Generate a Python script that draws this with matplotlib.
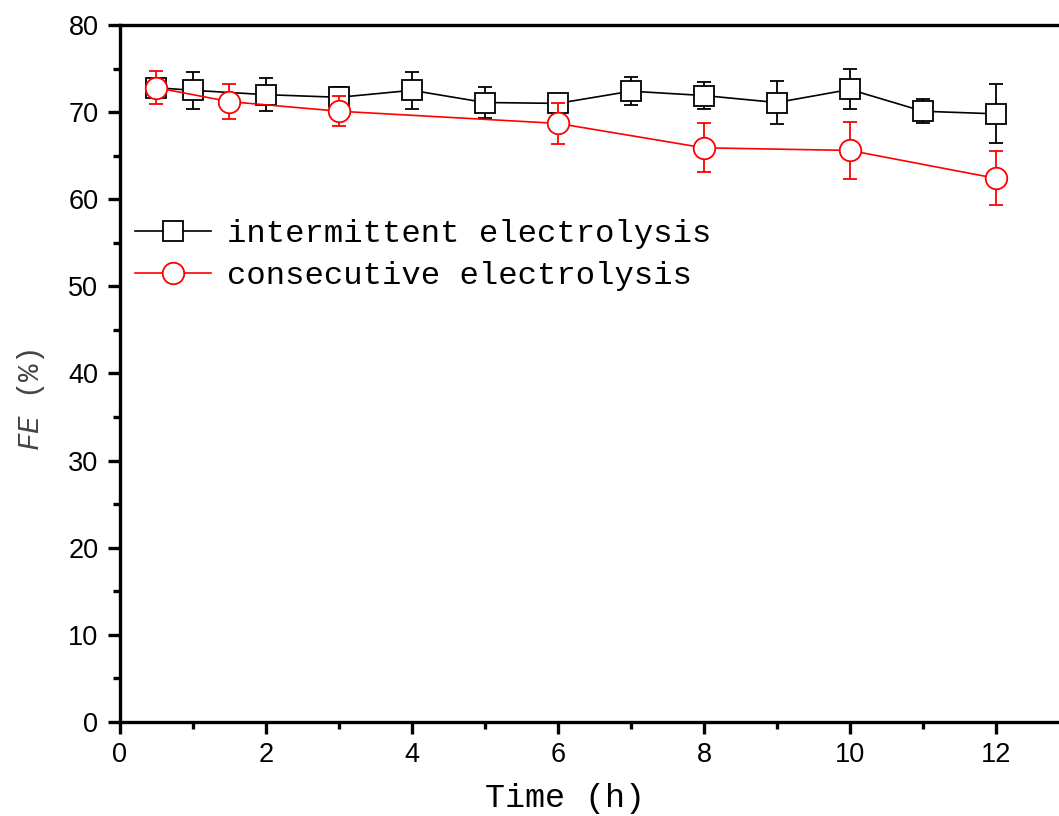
import matplotlib
matplotlib.use("Agg")
import matplotlib.pyplot as plt
from matplotlib.ticker import MultipleLocator
from matplotlib.lines import Line2D

# Data
t_inter = [0.5, 1, 2, 3, 4, 5, 6, 7, 8, 9, 10, 11, 12]
fe_inter = [72.8, 72.5, 72.0, 71.7, 72.5, 71.1, 71.0, 72.4, 71.9, 71.1, 72.6, 70.1, 69.8]
err_inter = [1.0, 2.1, 1.9, 1.2, 2.1, 1.8, 1.1, 1.6, 1.6, 2.5, 2.3, 1.4, 3.4]

t_cons = [0.5, 1.5, 3, 6, 8, 10, 12]
fe_cons = [72.8, 71.2, 70.1, 68.7, 65.9, 65.6, 62.4]
err_cons = [1.9, 2.0, 1.7, 2.4, 2.8, 3.25, 3.1]

labels = ["intermittent electrolysis", "consecutive electrolysis"]
x_ticks = [0, 2, 4, 6, 8, 10, 12]
y_ticks = [0, 10, 20, 30, 40, 50, 60, 70, 80]

plt.rcParams['mathtext.fontset'] = 'custom'
plt.rcParams['mathtext.it'] = 'Liberation Mono:italic'
plt.rcParams['mathtext.rm'] = 'Liberation Mono'

fig = plt.figure(figsize=(10.59, 8.16), dpi=100)
ax = fig.add_axes([0.1133, 0.1152, 0.896, 0.8542])

mono = 'Liberation Mono'
sans = 'Liberation Sans'

ax.errorbar(t_inter, fe_inter, yerr=err_inter, color='black', marker='s',
            markersize=14, markerfacecolor='white', markeredgecolor='black',
            markeredgewidth=1.3, linewidth=1.2, capsize=4.7, elinewidth=1.3,
            capthick=1.3, zorder=3)
ax.errorbar(t_cons, fe_cons, yerr=err_cons, color='#ff0000', marker='o',
            markersize=15.5, markerfacecolor='white', markeredgecolor='#ff0000',
            markeredgewidth=1.3, linewidth=1.2, capsize=4.7, elinewidth=1.3,
            capthick=1.3, zorder=4)

ax.set_xlim(0, 13)
ax.set_ylim(0, 80)
ax.set_xticks(x_ticks)
ax.set_yticks(y_ticks)
ax.xaxis.set_minor_locator(MultipleLocator(1))
ax.yaxis.set_minor_locator(MultipleLocator(5))

for s in ax.spines.values():
    s.set_linewidth(2.4)

ax.tick_params(which='major', direction='out', length=8.5, width=2.4)
ax.tick_params(which='minor', direction='out', length=5, width=2.4)
ax.tick_params(axis='x', which='major', pad=6)
ax.tick_params(axis='y', which='major', pad=7)

for lab in ax.get_xticklabels():
    lab.set_fontfamily(sans)
    lab.set_fontsize(19.5)
for lab in ax.get_yticklabels():
    lab.set_fontfamily(sans)
    lab.set_fontsize(19.5)

ax.set_xlabel("Time (h)", fontfamily=mono, fontsize=24)
ax.xaxis.set_label_coords(0.469, -0.088)
ax.set_ylabel(r"$\mathit{FE}$ (%)", fontfamily=mono, fontsize=21, color='#444444')
ax.yaxis.set_label_coords(-0.077, 0.462)

handles = [
    Line2D([], [], color='black', marker='s', markersize=14, markerfacecolor='white',
           markeredgecolor='black', markeredgewidth=1.3, linewidth=1.2),
    Line2D([], [], color='#ff0000', marker='o', markersize=15.5, markerfacecolor='white',
           markeredgecolor='#ff0000', markeredgewidth=1.3, linewidth=1.2),
]
leg = ax.legend(handles, labels, loc='upper left', bbox_to_anchor=(0.006, 0.735),
                frameon=False, prop={'family': mono, 'size': 23.2}, handlelength=2.35,
                handletextpad=0.5, labelspacing=0.36, borderaxespad=0.0,
                borderpad=0.3)

fig.savefig("out.png", dpi=100)
